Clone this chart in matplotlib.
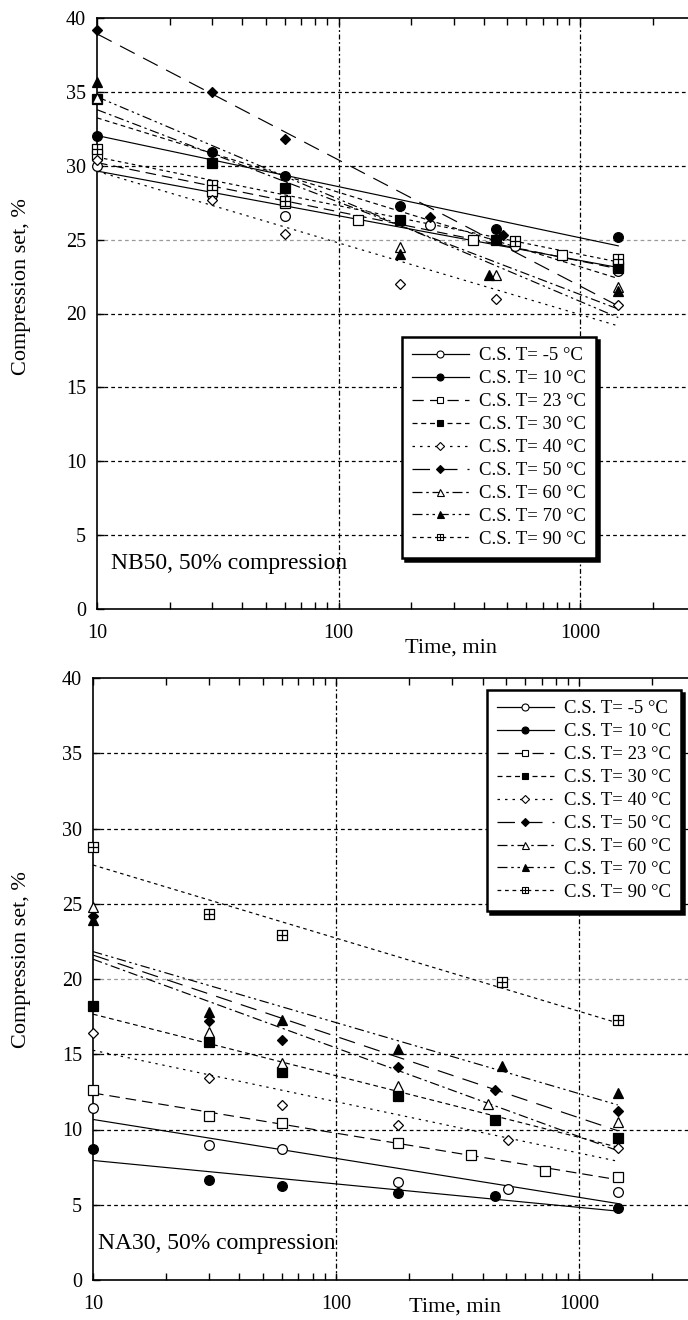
import numpy as np
import matplotlib
matplotlib.use("Agg")
import matplotlib.pyplot as plt
from matplotlib.lines import Line2D
from matplotlib.path import Path
from matplotlib.ticker import FixedLocator, NullFormatter, FuncFormatter

plt.rcParams['font.family'] = ['Liberation Serif', 'DejaVu Serif']

# ---------------- data ----------------
labels = ["C.S. T= -5 °C", "C.S. T= 10 °C", "C.S. T= 23 °C", "C.S. T= 30 °C",
          "C.S. T= 40 °C", "C.S. T= 50 °C", "C.S. T= 60 °C", "C.S. T= 70 °C",
          "C.S. T= 90 °C"]

# NB50, 50% compression (top)
nb_t_m5 = [10, 30, 60, 240, 540, 1440]
nb_v_m5 = [30.0, 28.0, 26.6, 26.0, 24.6, 22.9]
nb_t_10 = [10, 30, 60, 180, 450, 1440]
nb_v_10 = [32.0, 30.9, 29.3, 27.3, 25.7, 25.2]
nb_t_23 = [10, 30, 60, 120, 360, 840, 1440]
nb_v_23 = [30.7, 28.3, 27.5, 26.3, 25.0, 23.95, 23.2]
nb_t_30 = [10, 30, 60, 180, 450, 1440]
nb_v_30 = [34.5, 30.2, 28.5, 26.3, 25.0, 23.1]
nb_t_40 = [10, 30, 60, 180, 450, 1440]
nb_v_40 = [30.4, 27.7, 25.4, 22.0, 21.0, 20.6]
nb_t_50 = [10, 30, 60, 240, 480]
nb_v_50 = [39.2, 35.0, 31.8, 26.5, 25.3]
nb_t_60 = [10, 180, 450, 1440]
nb_v_60 = [34.6, 24.5, 22.6, 21.8]
nb_t_70 = [10, 180, 420, 1440]
nb_v_70 = [35.7, 24.0, 22.6, 21.5]
nb_t_90 = [10, 30, 60, 540, 1440]
nb_v_90 = [31.1, 28.7, 27.6, 24.9, 23.7]

# NA30, 50% compression (bottom)
na_t_m5 = [10, 30, 60, 180, 510, 1440]
na_v_m5 = [11.4, 9.0, 8.7, 6.5, 6.05, 5.85]
na_t_10 = [10, 30, 60, 180, 450, 1440]
na_v_10 = [8.7, 6.65, 6.25, 5.8, 5.6, 4.8]
na_t_23 = [10, 30, 60, 180, 360, 720, 1440]
na_v_23 = [12.6, 10.9, 10.4, 9.1, 8.3, 7.25, 6.85]
na_t_30 = [10, 30, 60, 180, 450, 1440]
na_v_30 = [18.2, 15.8, 13.85, 12.2, 10.6, 9.45]
na_t_40 = [10, 30, 60, 180, 510, 1440]
na_v_40 = [16.4, 13.4, 11.6, 10.3, 9.3, 8.8]
na_t_50 = [10, 30, 60, 180, 450, 1440]
na_v_50 = [24.2, 17.2, 15.95, 14.15, 12.6, 11.25]
na_t_60 = [10, 30, 60, 180, 420, 1440]
na_v_60 = [24.8, 16.5, 14.4, 12.9, 11.7, 10.5]
na_t_70 = [10, 30, 60, 180, 480, 1440]
na_v_70 = [23.9, 17.8, 17.3, 15.35, 14.2, 12.4]
na_t_90 = [10, 30, 60, 480, 1440]
na_v_90 = [28.8, 24.3, 22.9, 19.8, 17.3]

top_series = [(nb_t_m5, nb_v_m5), (nb_t_10, nb_v_10), (nb_t_23, nb_v_23),
              (nb_t_30, nb_v_30), (nb_t_40, nb_v_40), (nb_t_50, nb_v_50),
              (nb_t_60, nb_v_60), (nb_t_70, nb_v_70), (nb_t_90, nb_v_90)]
bot_series = [(na_t_m5, na_v_m5), (na_t_10, na_v_10), (na_t_23, na_v_23),
              (na_t_30, na_v_30), (na_t_40, na_v_40), (na_t_50, na_v_50),
              (na_t_60, na_v_60), (na_t_70, na_v_70), (na_t_90, na_v_90)]

x_tick_labels = ["10", "100", "1000"]
y_ticks = [0, 5, 10, 15, 20, 25, 30, 35, 40]

# ---------------- styles ----------------
verts = [(-1, -1), (1, -1), (1, 1), (-1, 1), (-1, -1),
         (0, -1), (0, 1), (-1, 0), (1, 0)]
codes = [Path.MOVETO, Path.LINETO, Path.LINETO, Path.LINETO, Path.CLOSEPOLY,
         Path.MOVETO, Path.LINETO, Path.MOVETO, Path.LINETO]
boxplus = Path(verts, codes)

styles = [
    dict(marker='o', mfc='white', ms=7.0, ls='-'),
    dict(marker='o', mfc='black', ms=7.0, ls='-'),
    dict(marker='s', mfc='white', ms=6.5, ls=(0, (9, 5))),
    dict(marker='s', mfc='black', ms=6.5, ls=(0, (4, 3))),
    dict(marker='D', mfc='white', ms=5.5, ls=(0, (2, 4))),
    dict(marker='D', mfc='black', ms=5.5, ls=(0, (14, 8))),
    dict(marker='^', mfc='white', ms=7.0, ls=(0, (8, 3, 2, 3))),
    dict(marker='^', mfc='black', ms=7.0, ls=(0, (8, 3, 2, 3, 2, 3))),
    dict(marker=boxplus, mfc='white', ms=6.5, ls=(0, (3, 3))),
]

W, H = 688, 1320
fig = plt.figure(figsize=(W / 100, H / 100), dpi=100)

ax1 = fig.add_axes([97 / W, 1 - 609 / H, (W - 97) / W, (609 - 18) / H])
ax2 = fig.add_axes([93 / W, 1 - 1280 / H, (W - 93) / W, (1280 - 678) / H])


def setup(ax, grey_y):
    ax.set_xscale('log')
    ax.set_xlim(10, 2800)
    ax.set_ylim(0, 40)
    ax.set_yticks(y_ticks)
    ax.xaxis.set_major_locator(FixedLocator([10, 100, 1000]))
    ax.xaxis.set_major_formatter(FuncFormatter(
        lambda v, p: x_tick_labels[[10, 100, 1000].index(int(round(v)))]
        if int(round(v)) in (10, 100, 1000) else ""))
    minors = [m * d for d in (10, 100, 1000) for m in range(2, 10)]
    ax.xaxis.set_minor_locator(FixedLocator(minors))
    ax.xaxis.set_minor_formatter(NullFormatter())
    ax.tick_params(axis='x', which='both', direction='in', top=True,
                   bottom=True, length=5, width=1.0, labelsize=14.5, pad=11)
    ax.tick_params(axis='y', which='both', direction='in', right=False,
                   length=5, width=1.0, labelsize=14.5, pad=8)
    ax.spines['right'].set_visible(False)
    for s in ('left', 'top', 'bottom'):
        ax.spines[s].set_linewidth(1.2)
    for yv in y_ticks[1:-1]:
        col = '#9a9a9a' if yv == grey_y else 'black'
        ax.axhline(yv, color=col, lw=0.9, ls=(0, (3, 2.5)), zorder=1)
    for xv in (100, 1000):
        ax.axvline(xv, color='black', lw=0.9, ls=(0, (4, 2, 1.5, 2)), zorder=1)


def draw(ax, series):
    xfit = np.array([10.0, 1440.0])
    for (t, v), st in zip(series, styles):
        t = np.asarray(t, float)
        v = np.asarray(v, float)
        k, b = np.polyfit(np.log10(t), v, 1)
        ax.plot(xfit, k * np.log10(xfit) + b, color='black', lw=0.85,
                ls=st['ls'], zorder=2)
    for (t, v), st in zip(series, styles):
        ax.plot(t, v, ls='none', marker=st['marker'], mfc=st['mfc'],
                mec='black', mew=0.9, ms=st['ms'], zorder=3, clip_on=False)


def legend(ax, x0, y0):
    handles = [Line2D([], [], color='black', lw=0.9, ls=st['ls'],
                      marker=st['marker'], mfc=st['mfc'], mec='black',
                      mew=0.8, ms=st['ms'] * 0.72) for st in styles]
    lg = ax.legend(handles, labels, loc='upper left',
                   bbox_to_anchor=(x0 / W, 1 - y0 / H),
                   bbox_transform=fig.transFigure, frameon=True,
                   fancybox=False, shadow={'color': 'black', 'alpha': 1},
                   edgecolor='black', framealpha=1, fontsize=13.5,
                   handlelength=3.0, handletextpad=0.55, labelspacing=0.31,
                   borderpad=0.55, borderaxespad=0)
    lg.get_frame().set_linewidth(1.8)
    lg.set_zorder(5)


setup(ax1, 25)
draw(ax1, top_series)
legend(ax1, 402, 337)
ax1.text((111 - 97) / (W - 97), (609 - 563) / (609 - 18),
         "NB50, 50% compression", transform=ax1.transAxes, fontsize=17,
         va='center', ha='left')

setup(ax2, 20)
draw(ax2, bot_series)
legend(ax2, 487, 690)
ax2.text((98 - 93) / (W - 93), (1280 - 1243) / (1280 - 678),
         "NA30, 50% compression", transform=ax2.transAxes, fontsize=17,
         va='center', ha='left')

fig.text(451 / W, 1 - 648 / H, "Time, min", fontsize=16, ha='center', va='center')
fig.text(455 / W, 1 - 1307 / H, "Time, min", fontsize=16, ha='center', va='center')
fig.text(22 / W, 1 - 287 / H, "Compression set, %", fontsize=16,
         rotation=90, ha='center', va='center')
fig.text(22 / W, 1 - 960 / H, "Compression set, %", fontsize=16,
         rotation=90, ha='center', va='center')

fig.savefig("out.png", dpi=100)
